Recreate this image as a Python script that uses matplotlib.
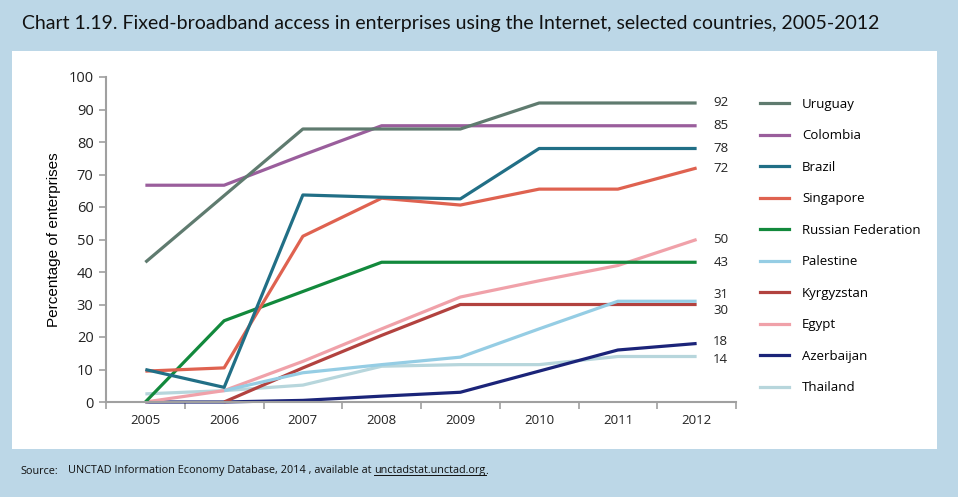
import numpy as np
import matplotlib.pyplot as plt
from matplotlib.patches import Rectangle
from matplotlib.lines import Line2D

years = ["2005", "2006", "2007", "2008", "2009", "2010", "2011", "2012"]
nan = np.nan

uruguay = [43, 63.5, 84, 84, 84, 92, 92, 92]
colombia = [66.7, 66.7, 76, 85, 85, 85, 85, 85]
brazil = [10, 4.5, 63.7, 63, 62.5, 78, 78, 78]
singapore = [9.5, 10.5, 51, 62.7, 60.6, 65.5, 65.5, 72]
russia = [0, 25, 34, 43, 43, 43, 43, 43]
palestine = [nan, 3.5, 9, 11.5, 13.8, 22.5, 31, 31]
kyrgyzstan = [nan, 0, 10.5, 20.5, 30, 30, 30, 30]
egypt = [0, 3.5, 12.5, 22.5, 32.3, 37.3, 42, 50]
azerbaijan = [0, 0, 0.5, 1.8, 3, 9.5, 16, 18]
thailand = [2.5, 3.5, 5.2, 11, 11.5, 11.5, 14, 14]

series = [
    ("Uruguay", uruguay, "#5f7b6f"),
    ("Colombia", colombia, "#9a5e9c"),
    ("Brazil", brazil, "#216f86"),
    ("Singapore", singapore, "#df6250"),
    ("Russian Federation", russia, "#12893c"),
    ("Palestine", palestine, "#95cde4"),
    ("Kyrgyzstan", kyrgyzstan, "#b2423f"),
    ("Egypt", egypt, "#f0a1a9"),
    ("Azerbaijan", azerbaijan, "#1b2479"),
    ("Thailand", thailand, "#b7d6dc"),
]

# nudges (points) for end labels that would collide
nudge = {"31": 4.5, "30": -4.5, "18": 1.5, "14": -2}

fig = plt.figure(figsize=(9.58, 4.97), dpi=100)
fig.patch.set_facecolor("#bcd7e7")
fig.patches.append(Rectangle((12 / 958, 1 - 449 / 497), 925 / 958, 398 / 497,
                             transform=fig.transFigure, facecolor="white",
                             edgecolor="none", zorder=-5))

ax = fig.add_axes([106 / 958, 1 - 402 / 497, 630 / 958, 325 / 497], zorder=2)
ax.set_facecolor("none")

x = np.arange(len(years))
# draw in reverse so top-of-list series sit on top
for name, vals, col in series[::-1]:
    ax.plot(x, vals, color=col, lw=2.3, solid_capstyle="butt", clip_on=False)
handles = [Line2D([], [], color=col, lw=2.3) for name, vals, col in series]

for name, vals, col in series:
    v = vals[-1]
    lab = str(int(round(v)))
    ax.annotate(lab, (x[-1], v), xytext=(12, nudge.get(lab, 0)),
                textcoords="offset points", va="center", ha="left",
                fontsize=9.5, family="Open Sans", color="#222222")

ax.set_xlim(-0.5, 7.5)
ax.set_ylim(0, 100)
ax.set_yticks(range(0, 101, 10))
ax.set_xticks(x)
ax.set_xticklabels(years)
ax.set_xticks(np.arange(-0.5, 8, 1), minor=True)
ax.tick_params(axis="x", which="major", length=0, pad=9)
ax.tick_params(axis="x", which="minor", length=5, color="#a0a0a0", width=1.2)
ax.tick_params(axis="y", length=5, color="#a0a0a0", width=1.2, pad=4)
for lab in ax.get_xticklabels():
    lab.set_family("Open Sans")
    lab.set_fontsize(9.5)
    lab.set_color("#222222")
for lab in ax.get_yticklabels():
    lab.set_family("Open Sans")
    lab.set_fontsize(10.5)
    lab.set_color("#222222")
for s in ["top", "right"]:
    ax.spines[s].set_visible(False)
for s in ["left", "bottom"]:
    ax.spines[s].set_color("#a0a0a0")
    ax.spines[s].set_linewidth(1.5)
ax.set_ylabel("Percentage of enterprises", family="Liberation Sans",
              fontsize=11, labelpad=5)

leg = fig.legend(handles, [s[0] for s in series], loc="upper left",
                 bbox_to_anchor=(748 / 958, 1 - 86 / 497), frameon=False,
                 prop={"family": "Open Sans", "size": 9.5},
                 handlelength=2.2, handletextpad=1.0, labelspacing=1.4)

fig.text(22 / 958, 1 - 24 / 497,
         "Chart 1.19. Fixed-broadband access in enterprises using the Internet, selected countries, 2005-2012",
         family="Lato", fontsize=14, va="center", ha="left", color="#111111")

fs = 7.8
fig.text(20 / 958, 1 - 471 / 497, "Source:", family="Open Sans",
         fontsize=fs, va="center", ha="left", color="#111111")
t1 = fig.text(68 / 958, 1 - 471 / 497,
              "UNCTAD Information Economy Database, 2014 , available at ",
              family="Open Sans", fontsize=fs, va="center", ha="left", color="#111111")
fig.canvas.draw()
r = fig.canvas.get_renderer()
bb = t1.get_window_extent(r)
t2 = fig.text(bb.x1 / 958, 1 - 471 / 497, "unctadstat.unctad.org",
              family="Open Sans", fontsize=fs, va="center", ha="left", color="#111111")
bb2 = t2.get_window_extent(r)
fig.text(bb2.x1 / 958, 1 - 471 / 497, ".", family="Open Sans", fontsize=fs,
         va="center", ha="left", color="#111111")
uy = (bb2.y0 + 2) / 497
fig.lines.append(Line2D([bb2.x0 / 958, bb2.x1 / 958], [uy, uy],
                        transform=fig.transFigure, color="#111111", lw=0.7))

fig.savefig("out.png", dpi=100, facecolor=fig.get_facecolor())
